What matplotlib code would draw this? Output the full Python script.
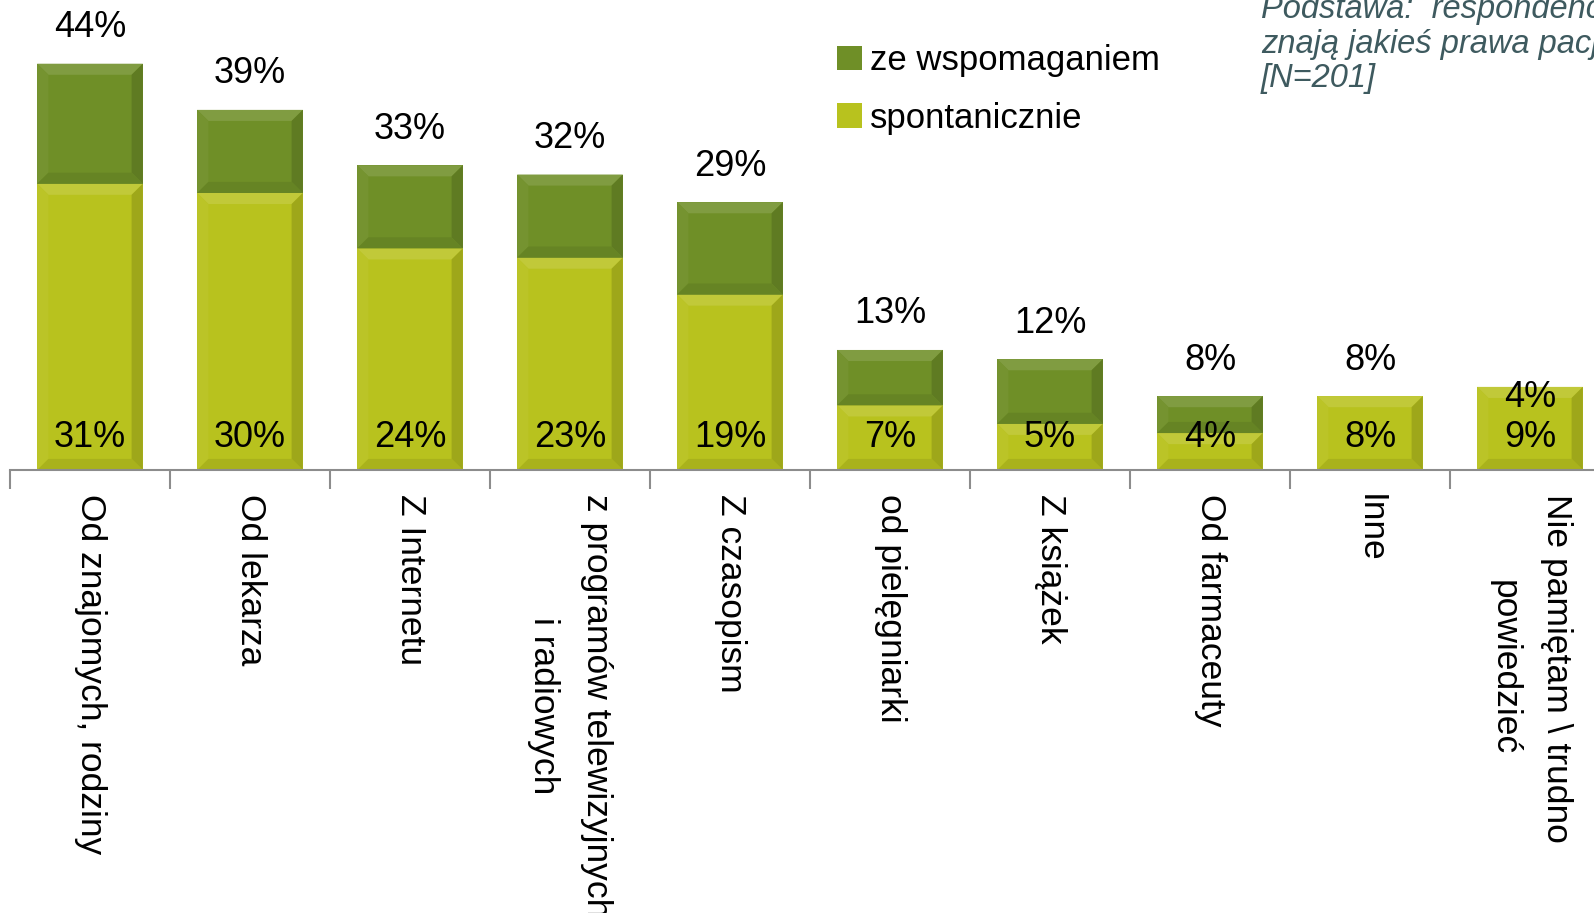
import matplotlib
matplotlib.use("Agg")
import matplotlib.pyplot as plt
from matplotlib import font_manager
from matplotlib.colors import to_rgb
from matplotlib.patches import Polygon
import numpy as np

categories = [
    "Od znajomych, rodziny",
    "Od lekarza",
    "Z Internetu",
    "z programów telewizyjnych\ni radiowych",
    "Z czasopism",
    "od pielęgniarki",
    "Z książek",
    "Od farmaceuty",
    "Inne",
    "Nie pamiętam \\ trudno\npowiedzieć",
]
spontaneous = [31, 30, 24, 23, 19, 7, 5, 4, 8, 9]
total = [44, 39, 33, 32, 29, 13, 12, 8, 8, 4]

available = {f.name for f in font_manager.fontManager.ttflist}
narrow = [f for f in ["Liberation Sans Narrow", "DejaVu Sans Condensed", "Liberation Sans"] if f in available]
plt.rcParams["font.family"] = narrow + ["DejaVu Sans"]

light = "#b8c21e"
dark = "#6f8f27"


def shade(color, f):
    c = np.array(to_rgb(color))
    if f > 0:
        return tuple(c + (1 - c) * f)
    return tuple(c * (1 + f))


def bevel(ax, bars, color, bx=0.07, by=1.2):
    # fake the bevelled look of the original bars
    for p in bars.patches:
        x0, y0 = p.get_x(), p.get_y()
        w, h = p.get_width(), p.get_height()
        if h <= 0:
            continue
        dy = min(by, h / 2)
        x1, y1 = x0 + w, y0 + h
        pieces = [
            ([(x0, y1), (x1, y1), (x1 - bx, y1 - dy), (x0 + bx, y1 - dy)], 0.12),
            ([(x0, y0), (x0, y1), (x0 + bx, y1 - dy), (x0 + bx, y0 + dy)], 0.04),
            ([(x1, y0), (x1, y1), (x1 - bx, y1 - dy), (x1 - bx, y0 + dy)], -0.14),
            ([(x0, y0), (x1, y0), (x1 - bx, y0 + dy), (x0 + bx, y0 + dy)], -0.08),
        ]
        for pts, f in pieces:
            ax.add_patch(Polygon(pts, closed=True, facecolor=shade(color, f),
                                 edgecolor="none", zorder=p.get_zorder() + 0.1))


fig = plt.figure(figsize=(15.94, 9.13), dpi=100)
ax = fig.add_axes([10 / 1594, (913 - 470) / 913, 1600 / 1594, 470 / 913])

x = np.arange(len(categories))
spont = np.array(spontaneous)
extra = np.clip(np.array(total) - spont, 0, None)

b1 = ax.bar(x, spont, width=0.66, color=light, edgecolor="none")
b2 = ax.bar(x, extra, bottom=spont, width=0.66, color=dark, edgecolor="none")
bevel(ax, b1, light)
bevel(ax, b2, dark)

for xi, s, t in zip(x, spontaneous, total):
    ax.text(xi, 1.6, f"{s}%", ha="center", va="bottom", fontsize=26, zorder=5)
    ax.text(xi, t + 2.0, f"{t}%", ha="center", va="bottom", fontsize=26, zorder=5)

ax.set_xlim(-0.5, len(categories) - 0.5)
ax.set_ylim(0, 50.9)
ax.set_yticks([])
for side in ["left", "right", "top"]:
    ax.spines[side].set_visible(False)
ax.spines["bottom"].set_color("#8c8c8c")
ax.spines["bottom"].set_linewidth(1.5)

ax.set_xticks(x)
ax.set_xticklabels(categories, rotation=270, fontsize=25.5, va="top", ha="center",
                   multialignment="center", linespacing=1.75)
ax.tick_params(axis="x", which="major", length=0, pad=17)
ax.set_xticks(np.arange(-0.5, len(categories)), minor=True)
ax.tick_params(axis="x", which="minor", length=14, width=1.5, color="#8c8c8c")

leg_bars = [b2, b1]
ax.legend(leg_bars, ["ze wspomaganiem", "spontanicznie"], loc="upper left",
          bbox_to_anchor=(820 / 1594, 1 - 27 / 913), bbox_transform=fig.transFigure,
          frameon=False, fontsize=25, handlelength=0.7, handleheight=0.7,
          handletextpad=0.25, labelspacing=0.7, borderpad=0)

fig.text(1261 / 1594, 1 + 6 / 913,
         "Podstawa:  respondenci, którzy\nznają jakieś prawa pacjenta\n[N=201]",
         ha="left", va="top", fontsize=23.5, style="italic", color="#3e5a5f",
         linespacing=1.15, family=["Liberation Sans", "DejaVu Sans"])

fig.savefig("out.png", dpi=100)
